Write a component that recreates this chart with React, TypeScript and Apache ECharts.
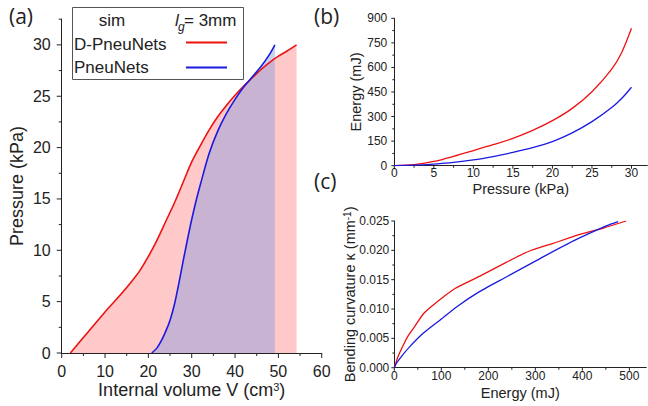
import React, { useEffect, useRef } from "react";
import * as echarts from "echarts";

// ---- Panel (a): Pressure vs internal volume ----
const dVolume = [2, 6, 10, 13, 16, 18, 20, 22, 24, 26, 28, 30, 32, 34, 36, 38, 40, 42, 44, 46, 48, 50, 52, 54.2];
const dPressure = [0, 2.0, 4.0, 5.4, 6.9, 8.0, 9.4, 11.0, 12.8, 14.6, 16.6, 18.6, 20.2, 21.7, 23.0, 24.1, 25.1, 26.0, 26.8, 27.6, 28.3, 28.9, 29.4, 30];
const pVolume = [20.8, 22, 23, 24, 25, 26, 27, 28, 29, 30, 31, 32, 34, 36, 38, 40, 42, 44, 46, 48, 49.2];
const pPressure = [0, 0.5, 1.2, 2.1, 3.2, 4.7, 6.7, 8.9, 11.0, 13.0, 14.8, 16.4, 19.4, 21.6, 23.3, 24.7, 25.9, 26.9, 27.9, 29.1, 30];

// ---- Panel (b): Energy vs pressure ----
const bPressure = [0, 2.5, 5, 7.5, 10, 12.5, 15, 17.5, 20, 22.5, 25, 27.5, 28.75, 30];
const dEnergy = [0, 6, 26, 57, 92, 128, 167, 216, 275, 350, 452, 590, 690, 839];
const pEnergy = [0, 3, 10, 20, 35, 56, 81, 110, 147, 200, 269, 355, 410, 479];

// ---- Panel (c): Curvature vs energy ----
const dCurvE = [0, 8, 20, 30, 44, 62, 83, 105, 129, 182, 239, 285, 338, 395, 445, 493];
const dCurvK = [0, 0.0019, 0.004, 0.0055, 0.0071, 0.0092, 0.0107, 0.0121, 0.0135, 0.0156, 0.018, 0.0198, 0.0212, 0.0227, 0.0238, 0.025];
const pCurvE = [0, 5, 15, 33, 62, 97, 133, 182, 239, 310, 381, 452, 476];
const pCurvK = [0, 0.0008, 0.0019, 0.0036, 0.0059, 0.0081, 0.0104, 0.013, 0.0155, 0.0186, 0.0216, 0.0242, 0.0249];

// ---- Axis ranges and tick steps ----
const aX = { min: 0, max: 60, tickMax: 60, step: 10 };
const aY = { min: 0, max: 32.5, tickMax: 30, step: 5 };
const bX = { min: 0, max: 32, tickMax: 30, step: 5 };
const bY = { min: 0, max: 900, tickMax: 900, step: 150 };
const cX = { min: 0, max: 536, tickMax: 500, step: 100 };
const cY = { min: 0, max: 0.025, tickMax: 0.025, step: 0.005 };

// ---- Tick mark values ----
const aXMajor = [0, 10, 20, 30, 40, 50, 60];
const aXMinor = [5, 15, 25, 35, 45, 55];
const aYMajor = [0, 5, 10, 15, 20, 25, 30];
const aYMinor = [2.5, 7.5, 12.5, 17.5, 22.5, 27.5, 32.5];
const bXMajor = [0, 5, 10, 15, 20, 25, 30];
const bXMinor = [2.5, 7.5, 12.5, 17.5, 22.5, 27.5];
const bYMajor = [0, 150, 300, 450, 600, 750, 900];
const bYMinor = [75, 225, 375, 525, 675, 825];
const cXMajor = [0, 100, 200, 300, 400, 500];
const cXMinor = [50, 150, 250, 350, 450];
const cYMajor = [0, 0.005, 0.01, 0.015, 0.02, 0.025];
const cYMinor = [0.0025, 0.0075, 0.0125, 0.0175, 0.0225];

const RED = "#ee1111";
const BLUE = "#1a1ae0";
const AXIS = "#222";
const FONT = "Liberation Sans, Arial, sans-serif";

const zip = (xs: number[], ys: number[]) => xs.map((x, i) => [x, ys[i]]);

// data grids (full axis extent)
const GA = { left: 61.7, top: 19.2, width: 260, height: 333.8 };
const GB = { left: 394.3, top: 18.3, width: 253, height: 147.4 };
const GC = { left: 394.3, top: 221, width: 252, height: 146.7 };

// label grid: same scale, clipped to last labelled tick
function labelGrid(g: any, ax: any, ay: any) {
  const w = (g.width * (ax.tickMax - ax.min)) / (ax.max - ax.min);
  const h = (g.height * (ay.tickMax - ay.min)) / (ay.max - ay.min);
  return { left: g.left, top: g.top + (g.height - h), width: w, height: h };
}

function dataAxis(kind: "x" | "y", gridIndex: number, r: any, o: any) {
  return {
    type: "value",
    gridIndex,
    min: r.min,
    max: r.max,
    position: kind === "x" ? "bottom" : "left",
    axisLine: { show: true, onZero: false, lineStyle: { color: AXIS, width: 1 } },
    axisTick: { show: false },
    axisLabel: { show: false },
    splitLine: { show: false },
    name: o.name,
    nameLocation: "middle",
    nameGap: o.nameGap,
    nameTextStyle: { fontSize: o.nameSize, fontFamily: FONT, color: "#222", rich: o.rich },
  };
}

function labelAxis(kind: "x" | "y", gridIndex: number, r: any, o: any) {
  return {
    type: "value",
    gridIndex,
    min: r.min,
    max: r.tickMax,
    interval: r.step,
    position: kind === "x" ? "bottom" : "left",
    axisLine: { show: false, onZero: false },
    axisTick: { show: false },
    axisLabel: {
      show: true,
      fontSize: o.labelSize,
      lineHeight: o.lineHeight,
      fontFamily: FONT,
      color: "#222",
      margin: o.margin,
      formatter: o.formatter,
      showMinLabel: true,
      showMaxLabel: true,
    },
    splitLine: { show: false },
  };
}

// tick marks drawn as thin rect symbols placed through the axis scales
function ticks(kind: "x" | "y", gi: number, values: number[], base: number, len: number) {
  return {
    type: "scatter",
    xAxisIndex: gi,
    yAxisIndex: gi,
    data: values.map((v) => (kind === "x" ? [v, base] : [base, v])),
    symbol: "rect",
    symbolSize: kind === "x" ? [1, len] : [len, 1],
    symbolOffset: kind === "x" ? [0, len / 2] : [-len / 2, 0],
    itemStyle: { color: AXIS, opacity: 1 },
    clip: false,
    silent: true,
    z: 5,
  };
}

export default function App() {
  const ref = useRef<HTMLDivElement>(null);
  useEffect(() => {
    if (!ref.current) return;
    const chart = echarts.init(ref.current, undefined, { renderer: "svg" });
    const xAxis = [
      dataAxis("x", 0, aX, {
        name: "Internal volume V (cm{sup|3})", nameGap: 28, nameSize: 18,
        rich: { sup: { fontSize: 11, fontFamily: FONT, color: "#222", verticalAlign: "top" } },
      }),
      dataAxis("x", 1, bX, { name: "Pressure (kPa)", nameGap: 15.5, nameSize: 14.5 }),
      dataAxis("x", 2, cX, { name: "Energy (mJ)", nameGap: 18, nameSize: 14.5 }),
      labelAxis("x", 3, aX, { labelSize: 16, margin: 10 }),
      labelAxis("x", 4, bX, { labelSize: 12, lineHeight: 11, margin: 2 }),
      labelAxis("x", 5, cX, { labelSize: 12, lineHeight: 11, margin: 3 }),
    ];
    const yAxis = [
      dataAxis("y", 0, aY, { name: "Pressure (kPa)", nameGap: 36, nameSize: 18 }),
      dataAxis("y", 1, bY, { name: "Energy (mJ)", nameGap: 31, nameSize: 14.5 }),
      dataAxis("y", 2, cY, {
        name: "Bending curvature κ (mm{sup|-1})", nameGap: 37, nameSize: 14.5,
        rich: { sup: { fontSize: 10, fontFamily: FONT, color: "#222", verticalAlign: "top" } },
      }),
      labelAxis("y", 3, aY, { labelSize: 16, margin: 11 }),
      labelAxis("y", 4, bY, { labelSize: 12, margin: 7 }),
      labelAxis("y", 5, cY, { labelSize: 12, margin: 5, formatter: (v: number) => v.toFixed(3) }),
    ];

    const line = (data: number[][], gi: number, color: string, width: number, smooth: number) => ({
      type: "line",
      xAxisIndex: gi,
      yAxisIndex: gi,
      data,
      smooth,
      showSymbol: false,
      symbol: "none",
      lineStyle: { color, width },
      silent: true,
    });
    const area = (data: number[][], gi: number, fill: string) => ({
      type: "line",
      xAxisIndex: gi,
      yAxisIndex: gi,
      data,
      smooth: 0.3,
      showSymbol: false,
      symbol: "none",
      lineStyle: { width: 0, opacity: 0 },
      areaStyle: { color: fill, opacity: 1 },
      silent: true,
    });

    const dA = zip(dVolume, dPressure);
    const pA = zip(pVolume, pPressure);

    const option: any = {
      animation: false,
      backgroundColor: "#fff",
      grid: [GA, GB, GC, labelGrid(GA, aX, aY), labelGrid(GB, bX, bY), labelGrid(GC, cX, cY)],
      xAxis,
      yAxis,
      series: [
        area(dA, 0, "rgba(255,0,0,0.21)"),
        area(pA, 0, "rgba(133,155,222,0.45)"),
        line(dA, 0, RED, 1.6, 0.3),
        line(pA, 0, BLUE, 1.6, 0.3),
        line(zip(bPressure, dEnergy), 1, RED, 1.3, 0.3),
        line(zip(bPressure, pEnergy), 1, BLUE, 1.3, 0.3),
        line(zip(dCurvE, dCurvK), 2, RED, 1.3, 0.2),
        line(zip(pCurvE, pCurvK), 2, BLUE, 1.3, 0.2),
        ticks("x", 0, aXMajor, aY.min, 5),
        ticks("x", 0, aXMinor, aY.min, 3),
        ticks("y", 0, aYMajor, aX.min, 5),
        ticks("y", 0, aYMinor, aX.min, 3),
        ticks("x", 1, bXMajor, bY.min, 3),
        ticks("x", 1, bXMinor, bY.min, 2),
        ticks("y", 1, bYMajor, bX.min, 3),
        ticks("y", 1, bYMinor, bX.min, 2),
        ticks("x", 2, cXMajor, cY.min, 3),
        ticks("x", 2, cXMinor, cY.min, 2),
        ticks("y", 2, cYMajor, cX.min, 3),
        ticks("y", 2, cYMinor, cX.min, 2),
      ],
      graphic: [
        { type: "text", left: 9, top: 5, style: { text: "(a)", font: "21px 'Open Sans', sans-serif", fill: "#222" } },
        { type: "text", left: 314, top: 5, style: { text: "(b)", font: "21px 'Open Sans', sans-serif", fill: "#222" } },
        { type: "text", left: 314, top: 170, style: { text: "(c)", font: "21px 'Open Sans', sans-serif", fill: "#222" } },
        {
          type: "rect",
          z: 100,
          shape: { x: 72.5, y: 7.5, width: 171, height: 72 },
          style: { fill: "#fff", stroke: "#555", lineWidth: 1 },
        },
        { type: "text", z: 101, x: 112, y: 20, style: { text: "sim", font: `17px ${FONT}`, fill: "#222", align: "center", verticalAlign: "middle" } },
        { type: "text", z: 101, x: 175, y: 20, style: { text: "l", font: `italic 17px ${FONT}`, fill: "#222", align: "left", verticalAlign: "middle" } },
        { type: "text", z: 101, x: 178, y: 27, style: { text: "g", font: `italic 12px ${FONT}`, fill: "#222", align: "left", verticalAlign: "middle" } },
        { type: "text", z: 101, x: 184, y: 20, style: { text: "= 3mm", font: `17px ${FONT}`, fill: "#222", align: "left", verticalAlign: "middle" } },
        { type: "text", z: 101, x: 74, y: 44, style: { text: "D-PneuNets", font: `17px ${FONT}`, fill: "#222", align: "left", verticalAlign: "middle" } },
        { type: "text", z: 101, x: 74, y: 67, style: { text: "PneuNets", font: `17px ${FONT}`, fill: "#222", align: "left", verticalAlign: "middle" } },
        { type: "line", z: 101, shape: { x1: 186, y1: 42.5, x2: 227, y2: 42.5 }, style: { stroke: RED, lineWidth: 2 } },
        { type: "line", z: 101, shape: { x1: 186, y1: 67.5, x2: 227, y2: 67.5 }, style: { stroke: BLUE, lineWidth: 2 } },
      ],
    };
    chart.setOption(option);
    return () => chart.dispose();
  }, []);
  return (
    <div
      ref={ref}
      style={{ position: "fixed", left: 0, top: 0, width: 648, height: 406, background: "#fff" }}
    />
  );
}
